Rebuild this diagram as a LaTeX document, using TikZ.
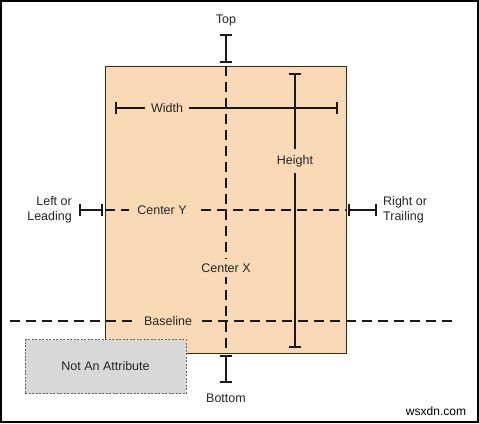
\documentclass[tikz,border=0pt]{standalone}
\usepackage{fontspec}
\setmainfont{Liberation Sans}
\begin{document}
\begin{tikzpicture}[x=1pt,y=-1pt,
  lbl/.style={font=\fontsize{12.5}{14.5}\selectfont, text=black!85, inner sep=1pt},
  dsh/.style={line width=2.4pt, black!90, dash pattern=on 10pt off 6pt},
  solidbar/.style={line width=2.6pt, black!90},
  peach/.style={fill={rgb,255:red,250;green,217;blue,183}}]
\useasboundingbox (0,0) rectangle (479,423);
\fill[white] (0,0) rectangle (479,423);
\draw[line width=2pt] (1,1) rectangle (478,422);
% main rectangle
\node[draw=black!70!brown, line width=0.8pt, peach, minimum width=241pt, minimum height=287pt, inner sep=0pt] (view) at (225.5,209.5) {};
% coordinates
\coordinate (topA) at (226,35);
\coordinate (topB) at (226,62);
\coordinate (botA) at (226,356);
\coordinate (botB) at (226,382);
\coordinate (cxT) at (226,66);
\coordinate (cxB) at (226,353);
\coordinate (cyL) at (105,210);
\coordinate (cyR) at (346,210);
\coordinate (lA) at (80,210);
\coordinate (lB) at (102,210);
\coordinate (rA) at (349,210);
\coordinate (rB) at (376,210);
\coordinate (wL) at (116,108);
\coordinate (wR) at (337,108);
\coordinate (hT) at (295,74);
\coordinate (hB) at (295,347);
\coordinate (blL) at (10,321);
\coordinate (blR) at (452,321);
% labels
\node[lbl] (top) at (226,20) {Top};
\node[lbl] (bottom) at (226,398) {Bottom};
\node[lbl, peach, inner xsep=6pt, inner ysep=4pt] (width) at (167,108) {Width};
\node[lbl, peach, inner sep=6pt] (height) at (295,161) {Height};
\node[lbl, align=right, anchor=east] (left) at (73,210) {Left or\\Leading};
\node[lbl, align=left, anchor=west] (right) at (382,210) {Right or\\Trailing};
% dashed lines
\draw[dsh] (cxT) -- (cxB);
\draw[dsh] (cyL) -- (cyR);
\draw[dsh] (blL) -- (blR);
\node[lbl, peach, inner xsep=8pt, inner ysep=5pt] (cx) at (226,268) {Center X};
\node[lbl, peach, inner xsep=8pt, inner ysep=5pt] (cy) at (162,210) {Center Y};
\node[lbl, peach, inner xsep=10pt, inner ysep=5pt] (bl) at (168,321) {Baseline};
% solid bars
\draw[solidbar] (wL) -- (width.west) (width.east) -- (wR);
\draw[solidbar] (wL)++(0,-6) -- ++(0,12);
\draw[solidbar] (wR)++(0,-6) -- ++(0,12);
\draw[solidbar] (hT) -- (height.north) (height.south) -- (hB);
\draw[solidbar] (hT)++(-6,0) -- ++(12,0);
\draw[solidbar] (hB)++(-6,0) -- ++(12,0);
\draw[solidbar] (topA) -- (topB);
\draw[solidbar] (topA)++(-6,0) -- ++(12,0);
\draw[solidbar] (topB)++(-6,0) -- ++(12,0);
\draw[solidbar] (botA) -- (botB);
\draw[solidbar] (botA)++(-6,0) -- ++(12,0);
\draw[solidbar] (botB)++(-6,0) -- ++(12,0);
\draw[solidbar] (lA) -- (lB);
\draw[solidbar] (lA)++(0,-6) -- ++(0,12);
\draw[solidbar] (lB)++(0,-6) -- ++(0,12);
\draw[solidbar] (rA) -- (rB);
\draw[solidbar] (rA)++(0,-6) -- ++(0,12);
\draw[solidbar] (rB)++(0,-6) -- ++(0,12);
% box
\node[lbl, draw=black!60, dash pattern=on 2pt off 1.5pt, line width=0.8pt, fill={rgb,255:red,216;green,216;blue,216}, minimum width=161pt, minimum height=54pt, inner sep=0pt] (na) at (105.5,366.5) {Not An Attribute};
\node[lbl, text=black, font=\fontsize{12}{14}\selectfont] (wm) at (436,411) {wsxdn.com};
\end{tikzpicture}
\end{document}
